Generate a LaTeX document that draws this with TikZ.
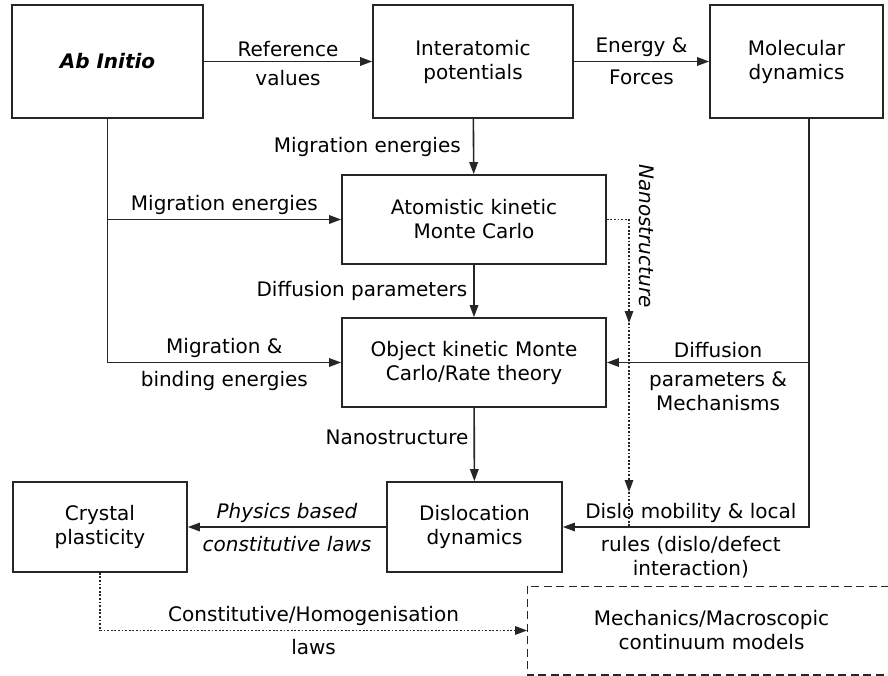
\documentclass[tikz,border=0pt]{standalone}
\usepackage{fontspec}
\setmainfont{DejaVu Sans}
\usetikzlibrary{arrows.meta,calc}

\newcommand{\boxfont}{\fontsize{20}{24}\selectfont}

\tikzset{
  model/.style={draw=black!85, line width=1.7pt, align=center, inner sep=0pt, font=\boxfont},
  tip/.style={-{Triangle[length=12pt,width=8.5pt]}},
  flow/.style={tip, draw=black!85, line width=1.6pt},
  hint/.style={draw=black!85, line width=1.5pt, dash pattern=on 1.8pt off 1.8pt},
  lbl/.style={inner sep=4pt, align=center, font=\boxfont},
  slbl/.style={lbl, font=\boxfont\itshape}
}

\begin{document}
\begin{tikzpicture}[x=1pt,y=-1pt]
  \useasboundingbox (0,0) rectangle (888,676);

  % models
  \node[model, minimum width=191pt, minimum height=113pt] (abinitio) at (107.5,61.5) {\textbf{\textit{Ab Initio}}};
  \node[model, minimum width=200pt, minimum height=113pt] (interat) at (473,61.5) {Interatomic\\potentials};
  \node[model, minimum width=173pt, minimum height=113pt] (md) at (796.5,61.5) {Molecular\\dynamics};
  \node[model, minimum width=264pt, minimum height=89pt] (akmc) at (474,219.5) {Atomistic kinetic\\Monte Carlo};
  \node[model, minimum width=264pt, minimum height=89pt] (okmc) at (474,362.5) {Object kinetic Monte\\Carlo/Rate theory};
  \node[model, minimum width=175pt, minimum height=90pt] (dd) at (474.5,527) {Dislocation\\dynamics};
  \node[model, minimum width=174pt, minimum height=90pt] (cp) at (100,527) {Crystal\\plasticity};
  % continuum box runs off the right edge
  \node[model, draw=none, minimum width=367pt, minimum height=87pt] (mech) at (711.5,630.5) {Mechanics/Macroscopic\\continuum models};
  \draw[draw=black!85, line width=1.3pt, dash pattern=on 8pt off 4.5pt] (mech.north west) rectangle ($(mech.south east)+(30,0)$);

  % top row
  \draw[flow] (abinitio) -- node[lbl,above] {Reference} node[lbl,below=4pt] {values} (interat);
  \draw[flow] (interat) -- node[lbl,above] {Energy \&} node[lbl,below=4pt] {Forces} (md);

  % down the middle
  \draw[flow] (interat) -- node[lbl,left=8pt] {Migration energies} (akmc);
  \draw[flow] (akmc) -- node[lbl,left=2pt] {Diffusion parameters} (okmc);
  \draw[flow] (okmc) -- node[lbl,left=1pt,pos=0.4] {Nanostructure} (dd);

  % from ab initio
  \draw[flow] (abinitio.south) |- node[lbl,above,pos=0.75] {Migration \&} node[lbl,below=4pt,pos=0.75] {binding energies} (okmc.west);
  \draw[flow] (abinitio.south |- akmc.west) -- node[lbl,above] {Migration energies} (akmc.west);

  % from molecular dynamics
  \coordinate (mdleg) at (809,0);
  \draw[flow] (md.south -| mdleg) |- node[lbl,above,pos=0.74] {Dislo mobility \& local} node[lbl,below=4pt,pos=0.74] {rules (dislo/defect\\interaction)} (dd.east);
  \draw[flow] (okmc.east -| mdleg) -- node[lbl,above,pos=0.45] {Diffusion} node[lbl,below=4pt,pos=0.45] {parameters \&\\Mechanisms} (okmc.east);

  % nanostructure shortcut
  \coordinate (nanoA) at (629,323);
  \coordinate (nanoB) at (629,492);
  \draw[hint,tip] (akmc.east) -| (nanoA);
  \draw[hint,tip] (nanoA) -- (nanoB);
  \draw[hint] (nanoB) -- (nanoB |- dd.east);
  \node[slbl, rotate=-90] (nanolbl) at (647,236) {Nanostructure};

  % bottom row
  \draw[flow] (dd) -- node[slbl,above] {Physics based} node[slbl,below=4pt] {constitutive laws} (cp);
  \draw[hint,tip] (cp.south) |- node[lbl,above,pos=0.75] {Constitutive/Homogenisation} node[lbl,below=4pt,pos=0.75] {laws} (mech.west);
\end{tikzpicture}
\end{document}
